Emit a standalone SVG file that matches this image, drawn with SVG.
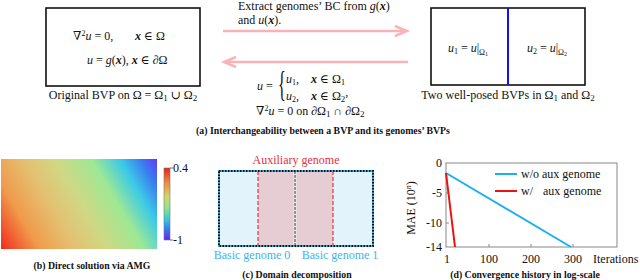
<svg xmlns="http://www.w3.org/2000/svg" width="640" height="280" viewBox="0 0 640 280">
<style>
text{font-family:"Liberation Serif","DejaVu Serif",serif;font-size:12px;fill:#111}
.i{font-style:italic}
.bi{font-style:italic;font-weight:bold}
.cap{font-size:9.8px;font-weight:bold;text-anchor:middle}
.box{fill:none;stroke:#111;stroke-width:1.6}
.arr{stroke:#f7b3b8;stroke-width:2.5;fill:none}
</style>
<defs>
<marker id="ah" markerUnits="userSpaceOnUse" markerWidth="16" markerHeight="12" refX="12" refY="5" orient="auto" overflow="visible">
<path d="M0,0 L12,5 L0,10" fill="none" stroke="#f7b3b8" stroke-width="2.5"/>
</marker>
<linearGradient id="field" gradientUnits="userSpaceOnUse" x1="160" y1="156" x2="1" y2="249">
<stop offset="0" stop-color="#6a28f5"/>
<stop offset="0.1" stop-color="#3a7cf0"/>
<stop offset="0.2" stop-color="#3ccbe6"/>
<stop offset="0.33" stop-color="#9ee894"/>
<stop offset="0.5" stop-color="#cfd884"/>
<stop offset="0.65" stop-color="#e4c072"/>
<stop offset="0.82" stop-color="#f09a4a"/>
<stop offset="1" stop-color="#f02a1e"/>
</linearGradient>
<linearGradient id="cbar" x1="0" y1="0" x2="0" y2="1">
<stop offset="0" stop-color="#e8201c"/>
<stop offset="0.2" stop-color="#f08a3c"/>
<stop offset="0.4" stop-color="#d8d46a"/>
<stop offset="0.55" stop-color="#8ee68c"/>
<stop offset="0.72" stop-color="#32c8e0"/>
<stop offset="0.87" stop-color="#3a70ee"/>
<stop offset="1" stop-color="#6a20f0"/>
</linearGradient>
</defs>

<!-- Panel (a) -->
<g id="original-bvp">
<rect class="box" x="46" y="8" width="154" height="78"/>
<text x="73" y="40">∇<tspan dy="-4" font-size="8">2</tspan><tspan dy="4" class="i">u</tspan> = 0,</text>
<text x="135" y="40"><tspan class="bi">x</tspan> ∈ Ω</text>
<text x="87" y="64"><tspan class="i">u</tspan> = <tspan class="i">g</tspan>(<tspan class="bi">x</tspan>), <tspan class="bi">x</tspan> ∈ ∂Ω</text>
<text x="123" y="99" text-anchor="middle">Original BVP on Ω = Ω<tspan dy="2" font-size="9">1</tspan><tspan dy="-2"> ∪ Ω</tspan><tspan dy="2" font-size="9">2</tspan></text>
</g>

<g id="genome-bvps">
<rect class="box" x="431" y="8" width="154" height="77"/>
<line x1="508" y1="8" x2="508" y2="85" stroke="#1010f0" stroke-width="2"/>
<text x="468" y="52" text-anchor="middle"><tspan class="i">u</tspan><tspan dy="2" font-size="8">1</tspan><tspan dy="-2"> = </tspan><tspan class="i">u</tspan>|<tspan dy="3" font-size="8">Ω</tspan><tspan dy="1" font-size="6">1</tspan></text>
<text x="547" y="52" text-anchor="middle"><tspan class="i">u</tspan><tspan dy="2" font-size="8">2</tspan><tspan dy="-2"> = </tspan><tspan class="i">u</tspan>|<tspan dy="3" font-size="8">Ω</tspan><tspan dy="1" font-size="6">2</tspan></text>
<text x="508" y="99" text-anchor="middle">Two well-posed BVPs in Ω<tspan dy="2" font-size="9">1</tspan><tspan dy="-2"> and Ω</tspan><tspan dy="2" font-size="9">2</tspan></text>
</g>

<g id="connectors">
<line class="arr" x1="223" y1="31" x2="407" y2="31" marker-end="url(#ah)"/>
<line class="arr" x1="408" y1="62" x2="224" y2="62" marker-end="url(#ah)"/>
</g>

<g id="connector-labels">
<text x="238" y="10">Extract genomes’ BC from <tspan class="i">g</tspan>(<tspan class="bi">x</tspan>)</text>
<text x="238" y="24">and <tspan class="i">u</tspan>(<tspan class="bi">x</tspan>).</text>
<text x="257" y="90"><tspan class="i">u</tspan> =</text>
<text x="0" y="0" style="font-size:36px" transform="translate(278,96) scale(0.45,1)">{</text>
<text x="286" y="83"><tspan class="i">u</tspan><tspan dy="2" font-size="8">1</tspan><tspan dy="-2">,</tspan></text>
<text x="311" y="83"><tspan class="bi">x</tspan> ∈ Ω<tspan dy="2" font-size="9">1</tspan></text>
<text x="286" y="100"><tspan class="i">u</tspan><tspan dy="2" font-size="8">2</tspan><tspan dy="-2">,</tspan></text>
<text x="311" y="100"><tspan class="bi">x</tspan> ∈ Ω<tspan dy="2" font-size="9">2</tspan><tspan dy="-6">,</tspan></text>
<text x="256" y="115">∇<tspan dy="-4" font-size="8">2</tspan><tspan dy="4" class="i">u</tspan> = 0 on ∂Ω<tspan dy="2" font-size="9">1</tspan><tspan dy="-2"> ∩ ∂Ω</tspan><tspan dy="2" font-size="9">2</tspan></text>
</g>
<text class="cap" x="323" y="134">(a) Interchangeability between a BVP and its genomes’ BVPs</text>

<!-- Panel (b) -->
<g id="panel-b">
<rect x="1" y="159" width="156" height="90" fill="url(#field)"/>
<rect x="164" y="168" width="6" height="72" fill="url(#cbar)" stroke="#777" stroke-width="0.6"/>
<line x1="170" y1="168" x2="173" y2="168" stroke="#555" stroke-width="0.8"/>
<line x1="170" y1="240" x2="173" y2="240" stroke="#555" stroke-width="0.8"/>
<text x="173" y="172" font-size="11">0.4</text>
<text x="173" y="244" font-size="11">-1</text>
<text class="cap" x="92" y="269">(b) Direct solution via AMG</text>
</g>

<!-- Panel (c) -->
<g id="panel-c">
<rect x="219" y="171" width="154" height="75" fill="#e3f3fb"/>
<rect x="258" y="171" width="75" height="75" fill="#e6cdd4"/>
<line x1="295" y1="171" x2="295" y2="246" stroke="#f4f0f2" stroke-width="3"/>
<line x1="295" y1="171" x2="295" y2="246" stroke="#333" stroke-width="1" stroke-dasharray="3,1"/>
<line x1="258" y1="171" x2="258" y2="246" stroke="#e8303c" stroke-width="1.2" stroke-dasharray="4,2"/>
<line x1="333" y1="171" x2="333" y2="246" stroke="#e8303c" stroke-width="1.2" stroke-dasharray="4,2"/>
<rect x="219" y="171" width="154" height="75" fill="none" stroke="#3ab0e8" stroke-width="2"/>
<rect x="219" y="171" width="154" height="75" fill="none" stroke="#111" stroke-width="2" stroke-dasharray="1.5,1.5"/>
<text x="296" y="164" text-anchor="middle" style="fill:#e8303c">Auxiliary genome</text>
<text x="252" y="259" text-anchor="middle" style="fill:#3ab4ee">Basic genome 0</text>
<text x="340" y="259" text-anchor="middle" style="fill:#3ab4ee">Basic genome 1</text>
<text class="cap" x="297" y="278">(c) Domain decomposition</text>
</g>

<!-- Panel (d) -->
<g id="panel-d">
<rect x="446" y="163" width="171" height="84" fill="none" stroke="#888" stroke-width="1"/>
<line x1="446" y1="193" x2="449" y2="193" stroke="#888"/>
<line x1="446" y1="223" x2="449" y2="223" stroke="#888"/>
<line x1="489" y1="247" x2="489" y2="244" stroke="#888"/>
<line x1="531" y1="247" x2="531" y2="244" stroke="#888"/>
<line x1="573" y1="247" x2="573" y2="244" stroke="#888"/>
<line x1="446" y1="173" x2="571" y2="247" stroke="#1cb0f0" stroke-width="2"/>
<line x1="446" y1="173" x2="455" y2="247" stroke="#ee1010" stroke-width="2"/>
<line x1="495" y1="174" x2="517" y2="174" stroke="#1cb0f0" stroke-width="2"/>
<line x1="495" y1="191" x2="517" y2="191" stroke="#ee1010" stroke-width="2"/>
<text x="521" y="178">w/o aux genome</text>
<text x="521" y="195">w/<tspan x="543">aux genome</tspan></text>
<g text-anchor="end">
<text x="442" y="167">0</text>
<text x="442" y="197">-5</text>
<text x="442" y="227">-10</text>
<text x="442" y="251">-14</text>
</g>
<g text-anchor="middle">
<text x="447" y="263">1</text>
<text x="489" y="263">100</text>
<text x="531" y="263">200</text>
<text x="573" y="263">300</text>
</g>
<text x="593" y="263">Iterations</text>
<text x="0" y="0" text-anchor="middle" transform="translate(415,208) rotate(-90)">MAE (10<tspan dy="-4" font-size="8" class="i">n</tspan><tspan dy="4">)</tspan></text>
<text class="cap" x="525" y="278">(d) Convergence history in log-scale</text>
</g>
</svg>
